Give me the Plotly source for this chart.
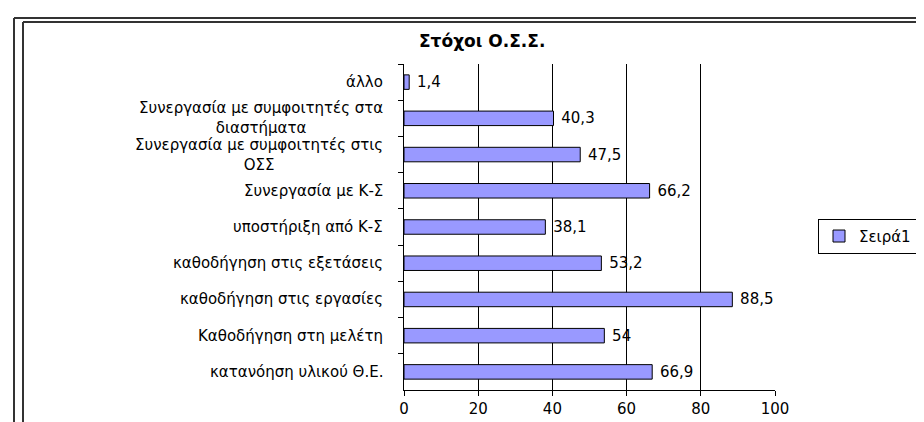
import plotly.graph_objects as go

categories = [
    "άλλο",
    "Συνεργασία με συμφοιτητές στα<br>διαστήματα",
    "Συνεργασία με συμφοιτητές στις<br>ΟΣΣ",
    "Συνεργασία με Κ-Σ",
    "υποστήριξη από Κ-Σ",
    "καθοδήγηση στις εξετάσεις",
    "καθοδήγηση στις εργασίες",
    "Καθοδήγηση στη μελέτη",
    "κατανόηση υλικού Θ.Ε.",
]
values = [1.4, 40.3, 47.5, 66.2, 38.1, 53.2, 88.5, 54, 66.9]
value_labels = ["1,4", "40,3", "47,5", "66,2", "38,1", "53,2", "88,5", "54", "66,9"]
series_name = "Σειρά1"
title_text = "Στόχοι Ο.Σ.Σ."
x_ticks = [0, 20, 40, 60, 80, 100]

FONT = "DejaVu Sans"
L, R, T, B = 396, 157, 56, 29
W, H = 924, 422
PW, PH = W - L - R, H - T - B

def px(xp):
    return (xp - L) / PW

def py(yp):
    return (H - B - yp) / PH

fig = go.Figure()
fig.add_trace(go.Bar(
    y=categories, x=values, orientation="h", name=series_name,
    marker=dict(color="#9999FF", line=dict(color="black", width=1)),
    width=0.4,
    text=value_labels, texttemplate="\u00a0%{text}",
    textposition="outside", cliponaxis=False, constraintext="none",
    textfont=dict(family=FONT, size=15, color="black"),
    showlegend=True,
))

annotations = []
for c in categories:
    annotations.append(dict(
        x=px(377), xref="paper", y=c, yref="y", text=c, showarrow=False,
        xanchor="right", yanchor="middle", align="center",
        font=dict(family=FONT, size=15, color="black"),
    ))
annotations.append(dict(
    x=px(474), xref="paper", y=py(32), yref="paper", text="<b>" + title_text + "</b>",
    showarrow=False, xanchor="center", yanchor="middle",
    font=dict(family=FONT, size=17, color="black"),
))

shapes = [
    dict(type="line", xref="paper", yref="paper", x0=px(6), x1=px(930), y0=py(8.5), y1=py(8.5),
         line=dict(color="#333333", width=2)),
    dict(type="line", xref="paper", yref="paper", x0=px(6), x1=px(6), y0=py(8.5), y1=py(430),
         line=dict(color="#333333", width=2)),
    dict(type="line", xref="paper", yref="paper", x0=px(15), x1=px(930), y0=py(12.5), y1=py(12.5),
         line=dict(color="#333333", width=2)),
    dict(type="line", xref="paper", yref="paper", x0=px(15), x1=px(15), y0=py(12.5), y1=py(430),
         line=dict(color="#333333", width=2)),
]

fig.update_layout(
    width=W, height=H,
    margin=dict(l=L, r=R, t=T, b=B, pad=0),
    paper_bgcolor="white", plot_bgcolor="white",
    separators=",.",
    font=dict(family=FONT, color="black", size=15),
    xaxis=dict(range=[0, 100], tickvals=x_ticks, showgrid=True, gridcolor="black", gridwidth=1,
               zeroline=False, showline=True, linecolor="black", linewidth=1,
               ticks="outside", ticklen=5, tickcolor="black",
               tickfont=dict(family=FONT, size=15)),
    yaxis=dict(autorange="reversed", showticklabels=False, showline=True, linecolor="black",
               linewidth=1, ticks="outside", ticklen=5, tickcolor="black", tickson="boundaries",
               showgrid=False, zeroline=False),
    bargap=0.6,
    legend=dict(x=px(810), y=py(216), xanchor="left", yanchor="top", bordercolor="black",
                borderwidth=1, bgcolor="white", font=dict(family=FONT, size=15),
                itemwidth=30),
    annotations=annotations, shapes=shapes,
)

fig.write_html("out.html")
